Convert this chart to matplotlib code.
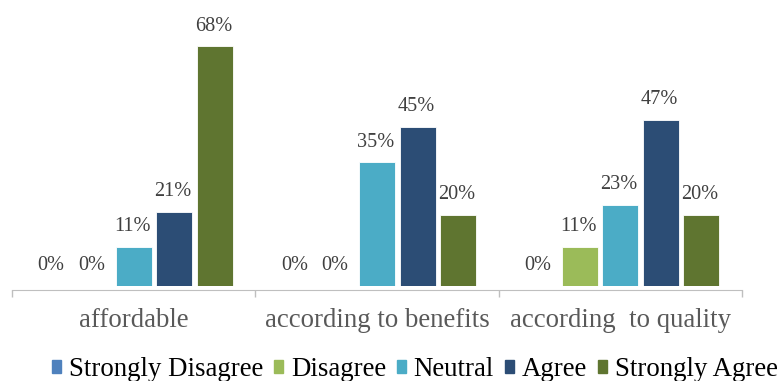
import matplotlib
matplotlib.use('Agg')
from matplotlib import pyplot as plt
from matplotlib.patches import Rectangle
import numpy as np

plt.rcParams['font.family'] = ['Liberation Serif', 'DejaVu Serif']

categories = ['affordable', 'according to benefits', 'according  to quality']
series = ['Strongly Disagree', 'Disagree', 'Neutral', 'Agree', 'Strongly Agree']
strongly_disagree = [0, 0, 0]
disagree = [0, 0, 11]
neutral = [11, 35, 23]
agree = [21, 45, 47]
strongly_agree = [68, 20, 20]
colors = ['#4F81BD', '#9BBB59', '#4BACC6', '#2C4D75', '#5F7530']

values = [strongly_disagree, disagree, neutral, agree, strongly_agree]

fig = plt.figure(figsize=(7.81, 3.81), dpi=100)
ax = fig.add_axes([12/781, 95.5/381, 730/781, 281.6/381])

pitch = 0.1665
width = 0.148
x = np.arange(len(categories)) + 0.5

for k, (name, vals, c) in enumerate(zip(series, values, colors)):
	pos = x + (k - 2) * pitch
	ax.bar(pos, vals, width, color=c, edgecolor='white', linewidth=0.6, label=name)
	for p, v in zip(pos, vals):
		ax.annotate('{}%'.format(v), (p, v), xytext=(-1, 14.5), textcoords='offset points',
			ha='center', va='center', fontsize=14.6, color='#404040')

ax.set_xlim(0, 3)
ax.set_ylim(0, 80)
ax.set_yticks([])
for s in ['left', 'right', 'top']:
	ax.spines[s].set_visible(False)
ax.spines['bottom'].set_color('#BFBFBF')
ax.spines['bottom'].set_position(('outward', 3))

# category names in the middle, separator ticks on group edges
ax.set_xticks(x)
ax.set_xticklabels(categories, fontsize=19.3, color='#595959')
ax.tick_params(axis='x', which='major', length=0, pad=13)
ax.set_xticks([0, 1, 2, 3], minor=True)
ax.tick_params(axis='x', which='minor', length=5, color='#BFBFBF', width=1)

handles = [Rectangle((0, 0), 1, 1, color=c) for c in colors]
fig.legend(handles, series, loc='center', bbox_to_anchor=(0.531, 0.029), ncol=5,
	frameon=False, fontsize=19.4, handlelength=0.35, handleheight=0.35,
	handletextpad=0.28, columnspacing=0.4, borderpad=0, borderaxespad=0)

fig.savefig('out.png', dpi=100)
